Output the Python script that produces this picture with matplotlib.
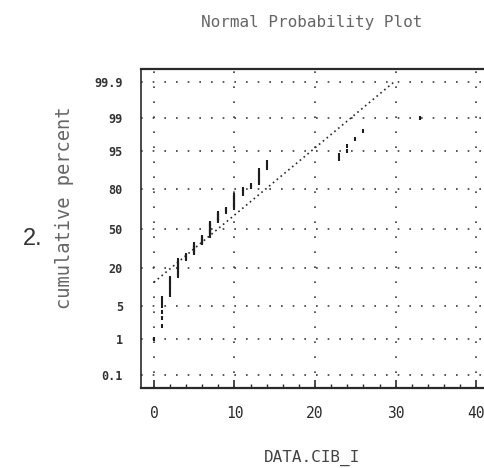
"""Normal probability plot, redrawn from a scanned dot-matrix printout."""

from statistics import NormalDist

import matplotlib

matplotlib.use("Agg")
import matplotlib.pyplot as plt
import numpy as np
from matplotlib.ticker import FixedLocator, MultipleLocator

# sample values (integers) and how many times each occurs
VALUES = [0, 1, 2, 3, 4, 5, 6, 7, 8, 9, 10, 11, 12, 13, 14, 23, 24, 25, 26, 33]
COUNTS = [1, 6, 8, 10, 4, 8, 6, 12, 8, 3, 10, 4, 2, 7, 3, 2, 2, 1, 1, 1]

# reference line
LINE_MEAN = 8.0
LINE_SD = 7.05
LINE_X = [0, 30]

Y_TICKS = [0.1, 1, 5, 20, 50, 80, 95, 99, 99.9]
Y_LABELS = ["0.1", "1", "5", "20", "50", "80", "95", "99", "99.9"]
X_TICKS = [0, 10, 20, 30, 40]

INK = "#2a2a2a"
GRID = "#3a3a3a"
MONO = "DejaVu Sans Mono"

nd = NormalDist()


def to_z(pct):
    return [nd.inv_cdf(p / 100.0) for p in pct]


# expand the frequency table and compute plotting positions i/(n+1)
data = np.repeat(VALUES, COUNTS)
n = len(data)
ranks = np.arange(1, n + 1)
pct = ranks / (n + 1) * 100.0
z_pts = to_z(pct)

fig = plt.figure(figsize=(4.85, 4.68), dpi=100)
ax = fig.add_axes([0.2907, 0.1709, 0.741, 0.6816])
ax.set_xlim(-1.6, 43)
ax.set_ylim(-3.365, 3.365)

# grid
for z in to_z(Y_TICKS):
    ax.axhline(z, color=GRID, lw=1.2, ls=(0, (1, 6)), zorder=1)
for x in X_TICKS:
    ax.axvline(x, color=GRID, lw=1.2, ls=(0, (1, 8)), zorder=1)

# fitted line
lx = np.array(LINE_X, dtype=float)
lz = (lx - LINE_MEAN) / LINE_SD
ax.plot(lx, lz, color=INK, lw=1.2, ls=(0, (1, 2)), zorder=2)

# data points
ax.plot(data, z_pts, ls="none", marker="|", ms=3.5, mew=1.5, color="#1e1e1e", zorder=3)

ax.set_yticks(to_z(Y_TICKS))
ax.set_yticklabels(Y_LABELS, family=MONO, fontsize=8.5, fontweight="bold", color="#333333")
ax.tick_params(axis="y", length=0, pad=13)

ax.xaxis.set_major_locator(FixedLocator(X_TICKS))
ax.xaxis.set_minor_locator(MultipleLocator(2))
ax.set_xticklabels([str(v) for v in X_TICKS], family=MONO, fontsize=10.5, color=INK)
ax.tick_params(axis="x", which="major", direction="in", length=6, width=1.2, pad=13, colors=INK)
ax.tick_params(axis="x", which="minor", direction="in", length=3, width=1.0, colors=INK)

for side in ["top", "bottom"]:
    ax.spines[side].set_linewidth(1.6)
    ax.spines[side].set_color(INK)
ax.spines["left"].set_linewidth(1.2)
ax.spines["left"].set_color(INK)
ax.spines["right"].set_visible(False)

fig.text(0.643, 0.952, "Normal Probability Plot", family=MONO, fontsize=11.5,
         color="#666666", ha="center", va="center")
fig.text(0.643, 0.022, "DATA.CIB_I", family=MONO, fontsize=11.5,
         color="#444444", ha="center", va="center")
fig.text(0.134, 0.557, "cumulative percent", family=MONO, fontsize=13.5,
         color="#666666", ha="center", va="center", rotation=90)
fig.text(0.068, 0.49, "2.", family="Liberation Sans", fontsize=17,
         color="#333333", ha="center", va="center")

fig.savefig("out.png", dpi=100)
